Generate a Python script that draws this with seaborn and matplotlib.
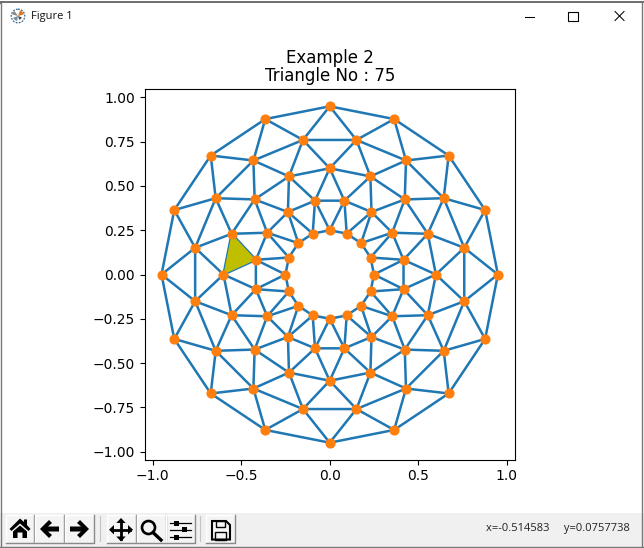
import matplotlib
matplotlib.use("Agg")
import numpy as np
import matplotlib.pyplot as plt
import matplotlib.tri as mtri
from matplotlib.patches import Circle, Polygon, Rectangle, Wedge
import seaborn as sns

# node coordinates, one pair of lists per ring (inner to outer)
ring1_x = [.25, .231, .177, .096, 0, -.096, -.177, -.231, -.25, -.231, -.177, -.096, 0, .096, .177, .231]
ring1_y = [0, .096, .177, .231, .25, .231, .177, .096, 0, -.096, -.177, -.231, -.25, -.231, -.177, -.096]
ring2_x = [.417, .353, .236, .083, -.083, -.236, -.353, -.417, -.417, -.353, -.236, -.083, .083, .236, .353, .417]
ring2_y = [.083, .236, .353, .417, .417, .353, .236, .083, -.083, -.236, -.353, -.417, -.417, -.353, -.236, -.083]
ring3_x = [.6, .554, .424, .23, 0, -.23, -.424, -.554, -.6, -.554, -.424, -.23, 0, .23, .424, .554]
ring3_y = [0, .23, .424, .554, .6, .554, .424, .23, 0, -.23, -.424, -.554, -.6, -.554, -.424, -.23]
ring4_x = [.76, .644, .431, .151, -.151, -.431, -.644, -.76, -.76, -.644, -.431, -.151, .151, .431, .644, .76]
ring4_y = [.151, .431, .644, .76, .76, .644, .431, .151, -.151, -.431, -.644, -.76, -.76, -.644, -.431, -.151]
ring5_x = [.95, .878, .672, .364, 0, -.364, -.672, -.878, -.95, -.878, -.672, -.364, 0, .364, .672, .878]
ring5_y = [0, .364, .672, .878, .95, .878, .672, .364, 0, -.364, -.672, -.878, -.95, -.878, -.672, -.364]

hole_radius = 0.25
picked_nodes = [40, 39, 23]
title = "Example 2\nTriangle No : 75"
status = "x=-0.514583     y=0.0757738"

x = np.array(ring1_x + ring2_x + ring3_x + ring4_x + ring5_x)
y = np.array(ring1_y + ring2_y + ring3_y + ring4_y + ring5_y)

W, H = 644, 548
fig = plt.figure(figsize=(W / 100, H / 100), dpi=100)

# window frame, drawn in pixel coordinates
ui = fig.add_axes([0, 0, 1, 1])
ui.set_xlim(0, W)
ui.set_ylim(H, 0)
ui.axis("off")

DARK = "#000000"
ui.add_patch(Rectangle((0, 512.5), W, 34, fc="#f0f0f0", ec="none"))
ui.plot([0, 0.5, 0.5], [3, 3, 546], color="#777777", lw=1)
ui.plot([0, W], [2, 2], color="#555555", lw=1.2)
ui.plot([642.5, 642.5], [3, 546], color="#777777", lw=1)
ui.plot([0, W], [546.5, 546.5], color="#777777", lw=1)

# title bar
ui.add_patch(Circle((18, 16), 6.8, fc="white", ec="#3a6a8c", lw=0.9, ls=(0, (1.5, 1))))
ui.add_patch(Wedge((18, 16), 6, 290, 345, fc="#d9792b", ec="none"))
ui.add_patch(Wedge((18, 16), 5, 100, 160, fc="#6f8fa6", ec="none"))
ui.add_patch(Wedge((18, 16), 6, 195, 235, fc="#888888", ec="none"))
ui.add_patch(Wedge((18, 16), 4, 20, 70, fc="#444444", ec="none"))
ui.text(31, 16.5, "Figure 1", family="Open Sans", fontsize=8, va="center", ha="left", color="#111111")
ui.plot([525, 534], [17, 17], color=DARK, lw=0.75)
ui.add_patch(Rectangle((568.5, 11.5), 9.5, 9.5, fc="none", ec=DARK, lw=0.8))
ui.plot([615, 624], [11.5, 20.5], color=DARK, lw=0.75)
ui.plot([615, 624], [20.5, 11.5], color=DARK, lw=0.75)

# toolbar buttons
for x0, x1 in [(6, 34.5), (35.5, 64), (65, 94), (107, 136), (137, 166), (166.5, 195), (206, 235)]:
    ui.add_patch(Rectangle((x0, 515), x1 - x0, 27, fc="#f4f4f4", ec="none"))
    ui.plot([x0, x0, x1], [542, 515, 515], color="white", lw=1)
    ui.plot([x0, x1, x1], [542.5, 542.5, 515], color="#8a8a8a", lw=1)
for sep in [100, 200]:
    ui.plot([sep, sep], [516, 541], color="#c4c4c4", lw=0.8)

# home
ui.add_patch(Polygon([(9.5, 529), (20, 518.5), (24, 522), (24, 519.5), (27, 519.5), (27, 525), (30.5, 529),
                      (28.5, 531), (20, 523.5), (11.5, 531)], fc=DARK, ec="none"))
ui.add_patch(Polygon([(13, 531.5), (20, 525.5), (27, 531.5), (27, 538), (22.5, 538), (22.5, 532.5),
                      (17.5, 532.5), (17.5, 538), (13, 538)], fc=DARK, ec="none"))
# back / forward
ui.add_patch(Polygon([(40, 529), (49, 520), (52, 523), (48, 526.5), (59, 526.5), (59, 531.5), (48, 531.5),
                      (52, 535), (49, 538)], fc=DARK, ec="none"))
ui.add_patch(Polygon([(89, 529), (80, 520), (77, 523), (81, 526.5), (70, 526.5), (70, 531.5), (81, 531.5),
                      (77, 535), (80, 538)], fc=DARK, ec="none"))
# move
ui.plot([112, 130], [529.7, 529.7], color=DARK, lw=2)
ui.plot([121, 121], [521, 539], color=DARK, lw=2)
ui.add_patch(Polygon([(109, 529.7), (114, 525), (114, 534.5)], fc=DARK, ec="none"))
ui.add_patch(Polygon([(133, 529.7), (128, 525), (128, 534.5)], fc=DARK, ec="none"))
ui.add_patch(Polygon([(121, 518), (116.3, 523), (125.7, 523)], fc=DARK, ec="none"))
ui.add_patch(Polygon([(121, 541.5), (116.3, 536.5), (125.7, 536.5)], fc=DARK, ec="none"))
# zoom
ui.add_patch(Circle((148.5, 527.5), 6.5, fc="none", ec=DARK, lw=1.9))
ui.plot([153, 161], [532.5, 540], color=DARK, lw=2.4)
# configure
for yy, kx in [(523, 176.5), (529.7, 185), (537, 177)]:
    ui.plot([170, 191], [yy, yy], color=DARK, lw=0.9)
    ui.add_patch(Rectangle((kx - 2.5, yy - 2.5), 5, 5, fc=DARK, ec="none"))
# save
ui.add_patch(Polygon([(212, 521), (226, 521), (230, 525), (230, 539.5), (212, 539.5)], fc="none", ec=DARK, lw=1.5))
ui.add_patch(Rectangle((216, 521), 9, 5.5, fc="none", ec=DARK, lw=1))
ui.add_patch(Rectangle((215.5, 531.5), 11, 8, fc="none", ec=DARK, lw=1))

ui.text(630, 529, status, family="Open Sans", fontsize=8, va="center", ha="right", color="#222222")

# the mesh itself
ax = fig.add_axes([144.7 / W, (H - 459.5) / H, 370 / W, 370 / H])
triang = mtri.Triangulation(x, y)
mid_x = x[triang.triangles].mean(axis=1)
mid_y = y[triang.triangles].mean(axis=1)
triang.set_mask(np.hypot(mid_x, mid_y) < hole_radius)

ax.triplot(triang, "-", color="C0", lw=1.8)
ax.fill(x[picked_nodes], y[picked_nodes], "y")
sns.scatterplot(x=x, y=y, color="C1", s=40, edgecolor="C1", linewidth=1, ax=ax, zorder=3, clip_on=False)
ax.set_aspect("equal")
ax.set_title(title, fontsize=12, linespacing=1.0, pad=6)

fig.savefig("out.png", dpi=100)
